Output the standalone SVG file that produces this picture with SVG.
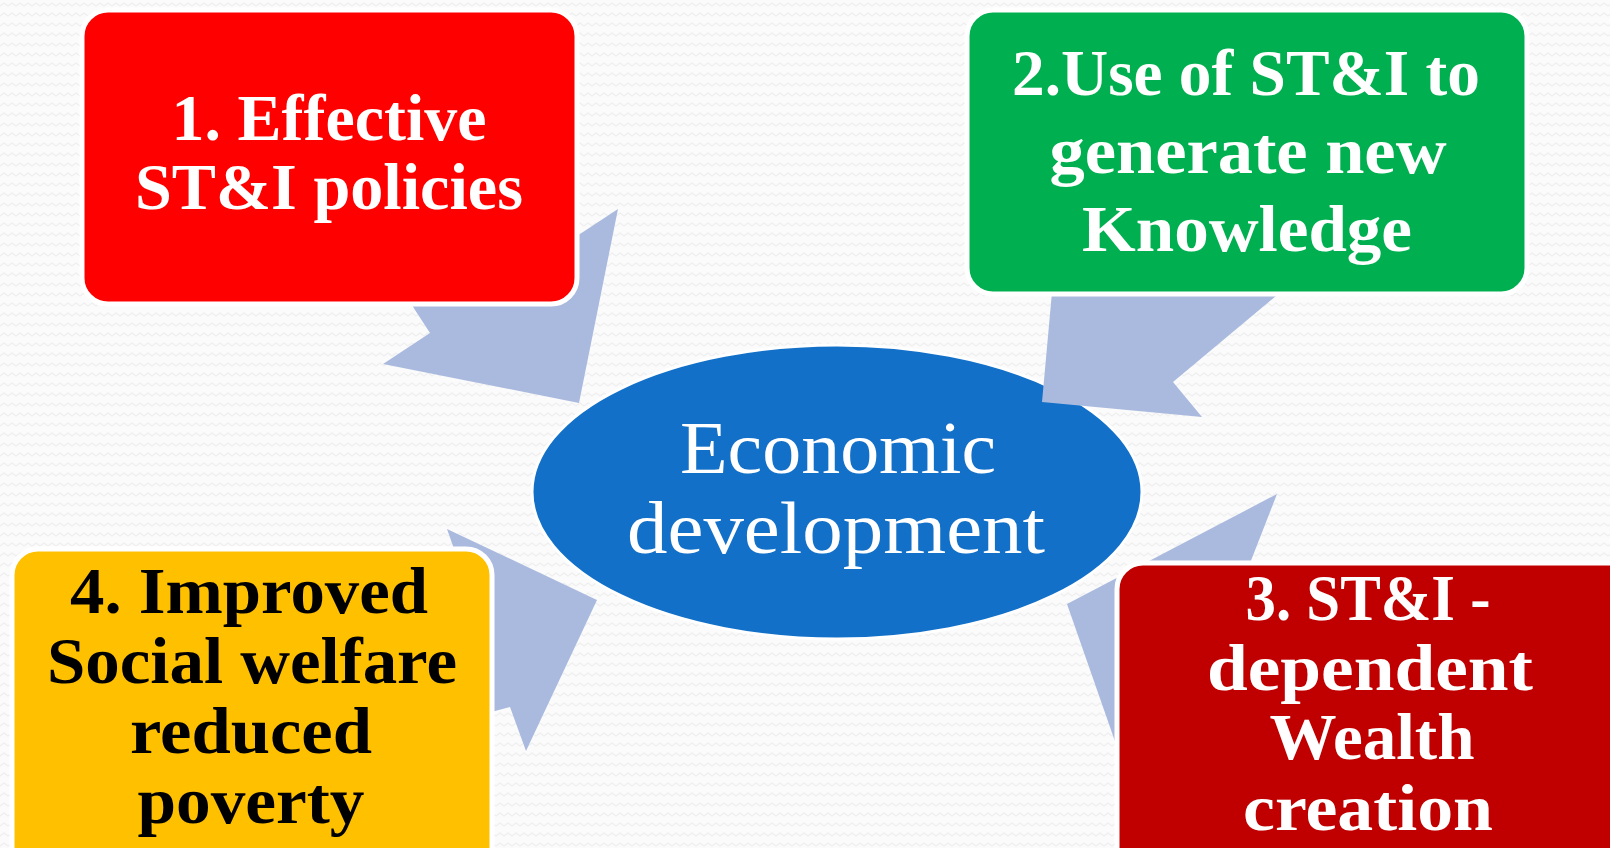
<svg xmlns="http://www.w3.org/2000/svg" width="1610" height="848" viewBox="0 0 1610 848">
  <defs>
    <pattern id="bgzig" width="16" height="10" patternUnits="userSpaceOnUse">
      <rect width="16" height="10" fill="#FBFBFB"/>
      <path d="M0 6 L4 3 L8 6 L12 3 L16 6" fill="none" stroke="#EFEFEF" stroke-width="1.2"/>
    </pattern>
    <style>
      .arrow { fill: #AABADF; stroke: none; }
      .box { stroke: #FFFFFF; stroke-width: 5; }
      .lbl { font-family: "Liberation Serif", "Times New Roman", serif; font-weight: bold; font-size: 66px; text-anchor: middle; }
      .center { font-family: "Liberation Serif", "Times New Roman", serif; font-size: 74px; fill: #FFFFFF; text-anchor: middle; }
    </style>
  </defs>

  <rect x="0" y="0" width="1610" height="848" fill="url(#bgzig)"/>

  <g id="node-center">
    <ellipse cx="837" cy="492" rx="305" ry="147" fill="#1270C8" stroke="#FFFFFF" stroke-width="3"/>
    <text class="center" x="838" y="473" textLength="316" lengthAdjust="spacingAndGlyphs">Economic</text>
    <text class="center" x="836" y="553" textLength="418" lengthAdjust="spacingAndGlyphs">development</text>
  </g>

  <g id="connectors">
    <polygon class="arrow" points="618,209 579,403 383,364 430,333 415,310 400,285 545,257"/>
    <polygon class="arrow" points="1042,402 1054,270 1307,270 1173,382 1202,417"/>
    <polygon class="arrow" points="1067,604 1277,494 1220,640 1125,770"/>
    <polygon class="arrow" points="447,529 597,600 526,751 510,707 480,715 465,580"/>
  </g>

  <g id="node-1">
    <rect class="box" x="82" y="10" width="495" height="294" rx="26" ry="26" fill="#FF0000"/>
    <text class="lbl" fill="#FFFFFF" x="329" y="140" textLength="315" lengthAdjust="spacingAndGlyphs">1. Effective</text>
    <text class="lbl" fill="#FFFFFF" x="329" y="209" textLength="388" lengthAdjust="spacingAndGlyphs">ST&amp;I policies</text>
  </g>

  <g id="node-2">
    <rect class="box" x="967" y="10" width="560" height="284" rx="26" ry="26" fill="#00B050"/>
    <text class="lbl" fill="#FFFFFF" x="1246" y="95" textLength="468" lengthAdjust="spacingAndGlyphs">2.Use of ST&amp;I to</text>
    <text class="lbl" fill="#FFFFFF" x="1248" y="173" textLength="397" lengthAdjust="spacingAndGlyphs">generate new</text>
    <text class="lbl" fill="#FFFFFF" x="1247" y="251" textLength="330" lengthAdjust="spacingAndGlyphs">Knowledge</text>
  </g>

  <g id="node-3">
    <rect class="box" x="1117" y="563" width="520" height="320" rx="26" ry="26" fill="#C00000"/>
    <text class="lbl" fill="#FFFFFF" x="1368" y="620" textLength="245" lengthAdjust="spacingAndGlyphs">3. ST&amp;I -</text>
    <text class="lbl" fill="#FFFFFF" x="1370" y="690" textLength="326" lengthAdjust="spacingAndGlyphs">dependent</text>
    <text class="lbl" fill="#FFFFFF" x="1372" y="759" textLength="205" lengthAdjust="spacingAndGlyphs">Wealth</text>
    <text class="lbl" fill="#FFFFFF" x="1368" y="830" textLength="250" lengthAdjust="spacingAndGlyphs">creation</text>
  </g>

  <g id="node-4">
    <rect class="box" x="12" y="549" width="480" height="330" rx="26" ry="26" fill="#FFC000"/>
    <text class="lbl" fill="#000000" x="249" y="613" textLength="358" lengthAdjust="spacingAndGlyphs">4. Improved</text>
    <text class="lbl" fill="#000000" x="252" y="683" textLength="410" lengthAdjust="spacingAndGlyphs">Social welfare</text>
    <text class="lbl" fill="#000000" x="251" y="753" textLength="242" lengthAdjust="spacingAndGlyphs">reduced</text>
    <text class="lbl" fill="#000000" x="251" y="823" textLength="227" lengthAdjust="spacingAndGlyphs">poverty</text>
  </g>
</svg>
